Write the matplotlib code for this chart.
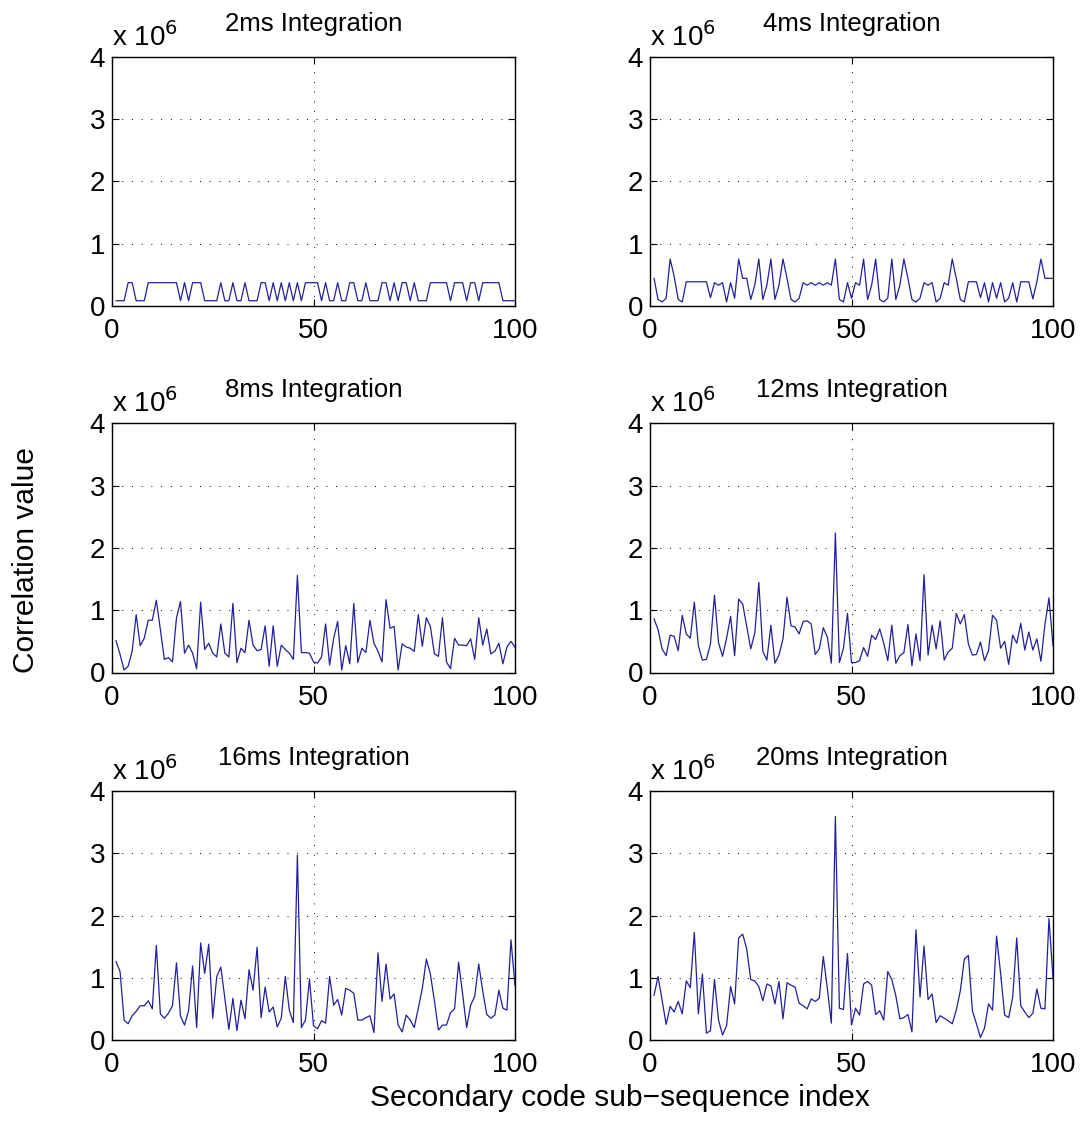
import matplotlib
matplotlib.use('Agg')
import matplotlib.pyplot as plt
import numpy as np

plt.rcParams['font.family'] = ['Liberation Sans', 'DejaVu Sans']

# sub-sequence index
idx = np.arange(1, 101)

titles = ['2ms Integration', '4ms Integration', '8ms Integration',
          '12ms Integration', '16ms Integration', '20ms Integration']

# 2ms: two-level pattern (H = high, L = low)
lev_hi = 0.37
lev_lo = 0.08
pattern_2ms = ('LLLHHLLLHHHHHHHHLHLHHHLLLLHLLHLLHLLLHHLHLHLHLHLHHH'
               'HLHLLHLLHHLLHLLLHHLHLHHLHLLLHHHHHLHHHLHHLHHHHHLLLL')
corr_2ms = [lev_hi if c == 'H' else lev_lo for c in pattern_2ms]

# values in units of 1e6
corr_4ms = [0.44, 0.10, 0.06, 0.12, 0.75, 0.47, 0.10, 0.06, 0.385, 0.385,
            0.385, 0.385, 0.385, 0.385, 0.13, 0.37, 0.33, 0.37, 0.06, 0.37,
            0.12, 0.75, 0.44, 0.44, 0.10, 0.33, 0.75, 0.10, 0.33, 0.75,
            0.10, 0.33, 0.75, 0.44, 0.10, 0.06, 0.12, 0.37, 0.33, 0.37,
            0.33, 0.37, 0.33, 0.37, 0.33, 0.75, 0.10, 0.06, 0.37, 0.12,
            0.37, 0.33, 0.75, 0.10, 0.33, 0.75, 0.10, 0.06, 0.12, 0.75,
            0.10, 0.33, 0.75, 0.44, 0.10, 0.06, 0.12, 0.37, 0.33, 0.37,
            0.06, 0.12, 0.37, 0.33, 0.75, 0.44, 0.10, 0.06, 0.385, 0.385,
            0.385, 0.13, 0.37, 0.06, 0.37, 0.12, 0.37, 0.06, 0.12, 0.37,
            0.06, 0.385, 0.385, 0.385, 0.11, 0.385, 0.75, 0.44, 0.44, 0.44]

corr_8ms = [0.51, 0.29, 0.04, 0.10, 0.34, 0.93, 0.43, 0.55, 0.84, 0.84,
            1.16, 0.69, 0.21, 0.24, 0.17, 0.88, 1.14, 0.31, 0.44, 0.31,
            0.06, 1.13, 0.37, 0.47, 0.31, 0.25, 0.78, 0.31, 0.25, 1.11,
            0.16, 0.39, 0.32, 0.84, 0.44, 0.35, 0.37, 0.75, 0.10, 0.75,
            0.10, 0.44, 0.37, 0.31, 0.21, 1.56, 0.32, 0.32, 0.31, 0.17,
            0.15, 0.25, 0.78, 0.12, 0.55, 0.82, 0.04, 0.43, 0.14, 1.11,
            0.16, 0.39, 0.32, 0.84, 0.47, 0.34, 0.17, 1.17, 0.71, 0.74,
            0.04, 0.46, 0.41, 0.39, 0.34, 0.93, 0.42, 0.88, 0.74, 0.30,
            0.26, 0.88, 0.17, 0.06, 0.55, 0.44, 0.44, 0.43, 0.54, 0.21,
            0.88, 0.44, 0.70, 0.30, 0.34, 0.47, 0.14, 0.41, 0.50, 0.41]

corr_12ms = [0.86, 0.69, 0.38, 0.27, 0.60, 0.58, 0.35, 0.92, 0.62, 0.55,
             1.13, 0.43, 0.20, 0.21, 0.46, 1.24, 0.48, 0.26, 0.55, 0.90,
             0.27, 1.18, 1.10, 0.74, 0.38, 0.63, 1.45, 0.34, 0.20, 0.76,
             0.15, 0.28, 0.54, 1.21, 0.75, 0.73, 0.62, 0.82, 0.83, 0.78,
             0.29, 0.38, 0.72, 0.57, 0.15, 2.24, 0.16, 0.39, 0.95, 0.16,
             0.16, 0.19, 0.40, 0.26, 0.60, 0.53, 0.70, 0.47, 0.19, 0.76,
             0.15, 0.27, 0.32, 0.77, 0.11, 0.62, 0.19, 1.57, 0.28, 0.76,
             0.38, 0.83, 0.20, 0.33, 0.39, 0.95, 0.78, 0.93, 0.46, 0.28,
             0.29, 0.49, 0.19, 0.35, 0.92, 0.84, 0.39, 0.50, 0.13, 0.60,
             0.47, 0.79, 0.36, 0.65, 0.36, 0.54, 0.18, 0.77, 1.20, 0.43]

corr_16ms = [1.26, 1.10, 0.32, 0.26, 0.39, 0.46, 0.55, 0.55, 0.63, 0.50,
             1.52, 0.42, 0.35, 0.43, 0.55, 1.24, 0.38, 0.24, 0.47, 1.19,
             0.20, 1.56, 1.07, 1.54, 0.35, 1.02, 1.17, 0.67, 0.17, 0.67,
             0.15, 0.64, 0.34, 1.13, 0.80, 1.49, 0.36, 0.85, 0.45, 0.53,
             0.21, 0.35, 1.02, 0.48, 0.28, 2.97, 0.20, 0.32, 0.98, 0.23,
             0.18, 0.31, 0.27, 1.02, 0.56, 0.65, 0.40, 0.83, 0.80, 0.75,
             0.32, 0.32, 0.36, 0.39, 0.12, 1.40, 0.62, 1.22, 0.66, 0.74,
             0.24, 0.13, 0.40, 0.32, 0.20, 0.51, 0.83, 1.30, 1.06, 0.63,
             0.16, 0.24, 0.24, 0.44, 0.50, 1.25, 0.74, 0.20, 0.56, 0.70,
             1.22, 0.78, 0.41, 0.35, 0.40, 0.80, 0.51, 0.48, 1.61, 0.88]

corr_20ms = [0.72, 1.02, 0.64, 0.25, 0.54, 0.45, 0.62, 0.42, 0.95, 0.84,
             1.73, 0.42, 1.06, 0.11, 0.15, 0.97, 0.32, 0.08, 0.23, 0.86,
             0.58, 1.64, 1.70, 1.46, 0.97, 0.95, 0.86, 0.63, 0.90, 0.87,
             0.58, 0.94, 0.34, 0.92, 0.88, 0.85, 0.59, 0.55, 0.50, 0.66,
             0.62, 0.67, 1.34, 0.83, 0.27, 3.59, 0.51, 0.49, 1.39, 0.24,
             0.51, 0.40, 0.90, 0.94, 0.88, 0.41, 0.47, 0.32, 1.10, 0.97,
             0.71, 0.34, 0.36, 0.41, 0.13, 1.77, 0.69, 1.51, 0.65, 0.74,
             0.28, 0.39, 0.35, 0.31, 0.26, 0.48, 0.79, 1.30, 1.36, 0.47,
             0.26, 0.04, 0.19, 0.58, 0.48, 1.67, 1.07, 0.40, 0.36, 0.69,
             1.64, 0.55, 0.45, 0.36, 0.43, 0.82, 0.51, 0.50, 1.95, 1.00]

all_corr = [corr_2ms, corr_4ms, corr_8ms, corr_12ms, corr_16ms, corr_20ms]

x_ticks = [0, 50, 100]
y_ticks = [0, 1, 2, 3, 4]

W, H = 1082, 1139
fig = plt.figure(figsize=(W / 100, H / 100), dpi=100)

# axes boxes in pixels: left, right / top, bottom
col_px = [(112, 515), (650, 1053)]
row_px = [(57, 305.7), (423.5, 672.5), (791, 1040)]

line_color = '#20209a'

for i, (title, corr) in enumerate(zip(titles, all_corr)):
    r, c = divmod(i, 2)
    x0, x1 = col_px[c]
    y0, y1 = row_px[r]
    ax = fig.add_axes([x0 / W, 1 - y1 / H, (x1 - x0) / W, (y1 - y0) / H])

    ax.plot(idx, corr, color=line_color, lw=0.9)

    ax.set_xlim(0, 100)
    ax.set_ylim(0, 4)
    ax.set_xticks(x_ticks)
    ax.set_yticks(y_ticks)
    ax.tick_params(direction='in', top=True, right=True, length=5,
                   width=0.8, labelsize=20)
    ax.tick_params(axis='x', pad=9)
    ax.tick_params(axis='y', pad=5)
    ax.grid(True, color='black', lw=0.7, ls=(0, (1, 9)))
    for s in ax.spines.values():
        s.set_linewidth(1.0)

    ax.set_title(title, fontsize=18.5, pad=19)
    # MATLAB style exponent label
    ax.text(0, 1.045, r'x 10$^6$', transform=ax.transAxes,
            fontsize=20, ha='left', va='baseline')

fig.text(26 / W, 1 - 560 / H, 'Correlation value', rotation=90,
         fontsize=21.5, ha='center', va='center')
fig.text(620 / W, 1 - 1098 / H, 'Secondary code sub\u2212sequence index',
         fontsize=21.5, ha='center', va='center')

fig.savefig('out.png', dpi=100)
